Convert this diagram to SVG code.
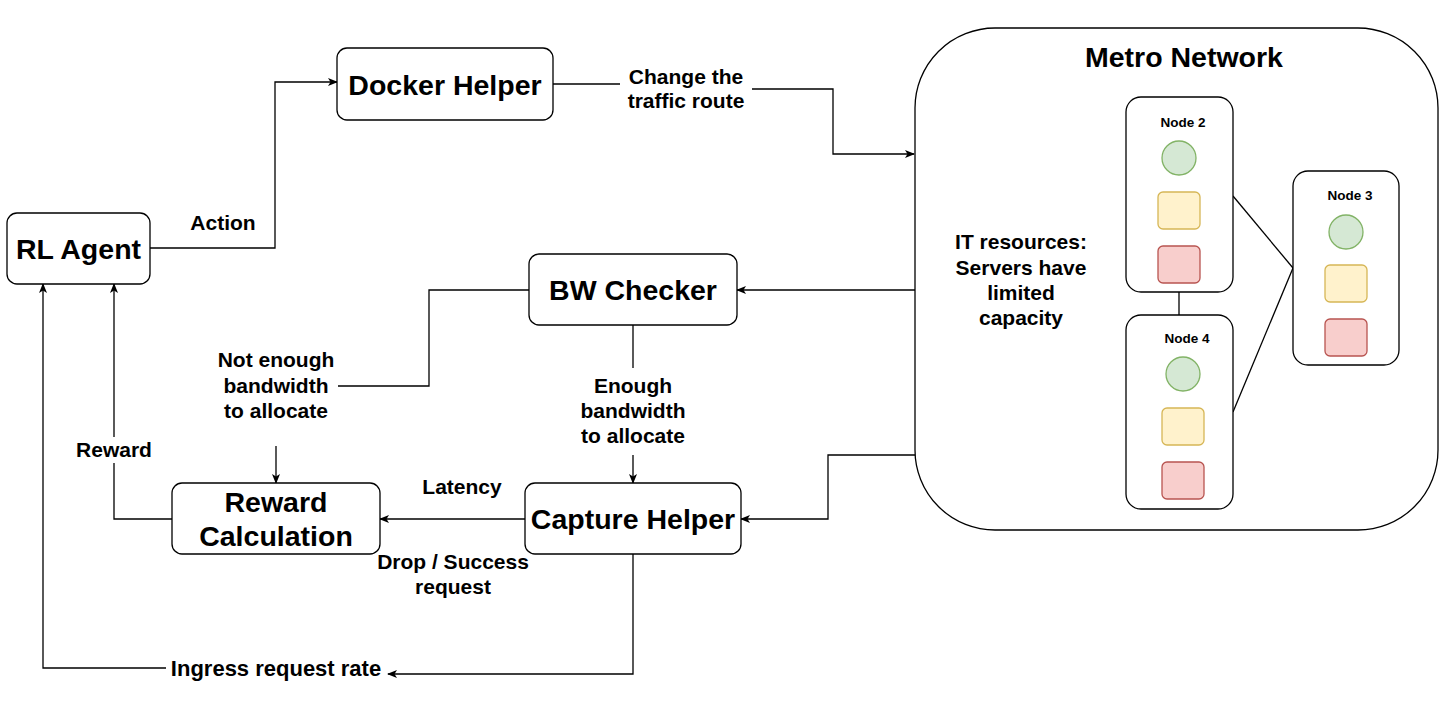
<svg xmlns="http://www.w3.org/2000/svg" width="1455" height="709" viewBox="0 0 1455 709">
<style>
  .box { fill: #ffffff; stroke: #000000; stroke-width: 1.3; }
  .big { font-family: "Liberation Sans", Arial, sans-serif; font-weight: bold; font-size: 28.5px; text-anchor: middle; fill: #000; }
  .lbl { font-family: "Liberation Sans", Arial, sans-serif; font-weight: bold; font-size: 21px; text-anchor: middle; fill: #000; }
  .nl { font-family: "Liberation Sans", Arial, sans-serif; font-weight: bold; font-size: 13.5px; text-anchor: middle; fill: #000; }
  .edge { fill: none; stroke: #000; stroke-width: 1.3; }
  .arr { fill: none; stroke: #000; stroke-width: 1.3; marker-end: url(#ah); }
  .g { fill: #d5e8d4; stroke: #82b366; stroke-width: 1.3; }
  .y { fill: #fff2cc; stroke: #d6b656; stroke-width: 1.3; }
  .r { fill: #f8cecc; stroke: #b85450; stroke-width: 1.3; }
</style>
<defs>
  <marker id="ah" markerWidth="10" markerHeight="10" refX="9" refY="4.5" orient="auto" markerUnits="userSpaceOnUse">
    <path d="M0,0.5 L10,4.5 L0,8.5 L2.5,4.5 z" fill="#000"/>
  </marker>
</defs>
<rect width="1455" height="709" fill="#ffffff"/>

<g id="metro-network">
  <rect class="box" x="915" y="28" width="523" height="502" rx="80"/>
  <text class="big" x="1184" y="67">Metro Network</text>
  <text class="lbl" x="1021" y="249">IT resources:</text>
  <text class="lbl" x="1021" y="275">Servers have</text>
  <text class="lbl" x="1021" y="300">limited</text>
  <text class="lbl" x="1021" y="325">capacity</text>
</g>

<g id="connectors">
  <polyline class="arr" points="150,248 275,248 275,82 337,82"/>
  <polyline class="edge" points="553,84 620,84"/>
  <polyline class="arr" points="752,89 833,89 833,154 914,154"/>
  <polyline class="arr" points="915,290 737,290"/>
  <polyline class="edge" points="529,290 429,290 429,386 338,386"/>
  <polyline class="arr" points="276,446 276,483"/>
  <polyline class="edge" points="633,325 633,368"/>
  <polyline class="arr" points="633,455 633,483"/>
  <polyline class="arr" points="915,455 828,455 828,519 741,519"/>
  <polyline class="arr" points="525,519 380,519"/>
  <polyline class="edge" points="172,519 114,519 114,463"/>
  <polyline class="arr" points="114,437 114,284"/>
  <polyline class="arr" points="633,554 633,674 388,674"/>
  <polyline class="arr" points="166,668 43,668 43,284"/>
  <line class="edge" x1="1233" y1="196" x2="1293" y2="268"/>
  <line class="edge" x1="1233" y1="412" x2="1293" y2="268"/>
  <line class="edge" x1="1179" y1="292" x2="1179" y2="315"/>
</g>

<g id="edge-labels">
  <text class="lbl" x="223" y="230">Action</text>
  <text class="lbl" x="686" y="84">Change the</text>
  <text class="lbl" x="686" y="108">traffic route</text>
  <text class="lbl" x="276" y="367">Not enough</text>
  <text class="lbl" x="276" y="393">bandwidth</text>
  <text class="lbl" x="276" y="418">to allocate</text>
  <text class="lbl" x="633" y="393">Enough</text>
  <text class="lbl" x="633" y="418">bandwidth</text>
  <text class="lbl" x="633" y="443">to allocate</text>
  <text class="lbl" x="462" y="494">Latency</text>
  <text class="lbl" x="453" y="569">Drop / Success</text>
  <text class="lbl" x="453" y="594">request</text>
  <text class="lbl" x="114" y="457">Reward</text>
  <text class="lbl" x="276" y="676" style="font-size:22px">Ingress request rate</text>
</g>

<g id="rl-agent">
  <rect class="box" x="7" y="213" width="143" height="71" rx="10"/>
  <text class="big" x="78.5" y="259">RL Agent</text>
</g>
<g id="docker-helper">
  <rect class="box" x="337" y="48" width="216" height="72" rx="10"/>
  <text class="big" x="445" y="95">Docker Helper</text>
</g>
<g id="bw-checker">
  <rect class="box" x="529" y="254" width="208" height="71" rx="10"/>
  <text class="big" x="633" y="300">BW Checker</text>
</g>
<g id="capture-helper">
  <rect class="box" x="525" y="483" width="216" height="71" rx="10"/>
  <text class="big" x="633" y="529">Capture Helper</text>
</g>
<g id="reward-calculation">
  <rect class="box" x="172" y="483" width="208" height="71" rx="10"/>
  <text class="big" x="276" y="512">Reward</text>
  <text class="big" x="276" y="546">Calculation</text>
</g>

<g id="node-2">
  <rect class="box" x="1126" y="97" width="107" height="195" rx="15"/>
  <text class="nl" x="1183" y="127">Node 2</text>
  <circle class="g" cx="1179" cy="158" r="17"/>
  <rect class="y" x="1158" y="192" width="42" height="37" rx="5"/>
  <rect class="r" x="1158" y="246" width="42" height="37" rx="5"/>
</g>
<g id="node-3">
  <rect class="box" x="1293" y="171" width="106" height="194" rx="15"/>
  <text class="nl" x="1350" y="200">Node 3</text>
  <circle class="g" cx="1346" cy="232" r="17"/>
  <rect class="y" x="1325" y="265" width="42" height="37" rx="5"/>
  <rect class="r" x="1325" y="319" width="42" height="37" rx="5"/>
</g>
<g id="node-4">
  <rect class="box" x="1126" y="315" width="107" height="194" rx="15"/>
  <text class="nl" x="1187" y="343">Node 4</text>
  <circle class="g" cx="1183" cy="374" r="17"/>
  <rect class="y" x="1162" y="408" width="42" height="37" rx="5"/>
  <rect class="r" x="1162" y="462" width="42" height="37" rx="5"/>
</g>
</svg>
